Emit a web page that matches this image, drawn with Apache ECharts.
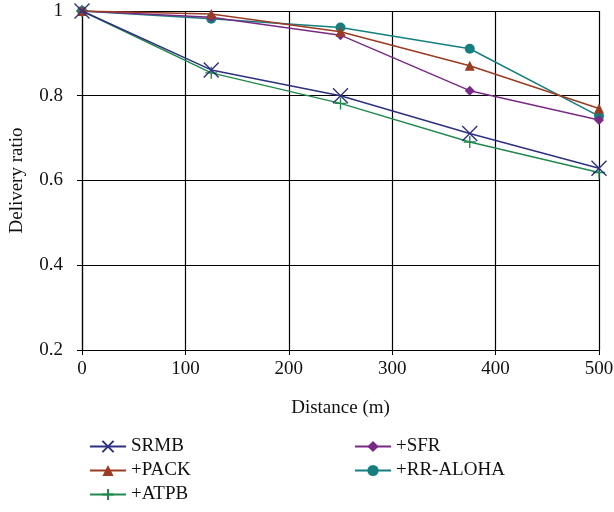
<!DOCTYPE html>
<html><head><meta charset="utf-8">
<script src="https://cdn.jsdelivr.net/npm/echarts@6/dist/echarts.min.js"></script>
<style>html,body{margin:0;padding:0;background:#fff}#c{width:614px;height:512px}</style>
</head><body><div id="c"></div>
<script>
const distances = [0, 125, 250, 375, 500];
const srmb    = [1.0, 0.861, 0.800, 0.711, 0.629];
const pack    = [1.0, 0.993, 0.951, 0.871, 0.770];
const atpb    = [1.0, 0.854, 0.782, 0.691, 0.619];
const sfr     = [1.0, 0.985, 0.943, 0.812, 0.743];
const rraloha = [1.0, 0.982, 0.961, 0.911, 0.752];
const seriesNames = ['SRMB', '+PACK', '+ATPB', '+SFR', '+RR-ALOHA'];
const seriesData = [srmb, pack, atpb, sfr, rraloha];
const colors = ['#2e3183', '#9c3a22', '#1f8a4c', '#7a2a86', '#13807f'];
const symbols = ['path://M0,0L10,10M10,0L0,10', 'triangle', 'path://M5,0L5,10M0,5L10,5', 'diamond', 'circle'];
const sizes = [15, 10, 12, 10, 10];

const font = '"Liberation Serif", "DejaVu Serif", serif';
const fs = 19;
const chart = echarts.init(document.getElementById('c'));
const series = seriesNames.map((n, i) => {
  const stroke = (i === 0 || i === 2);
  return {
    name: n, type: 'line',
    data: distances.map((d, j) => [d, seriesData[i][j]]),
    symbol: symbols[i], symbolSize: sizes[i],
    lineStyle: { color: colors[i], width: 1.5 },
    itemStyle: stroke ? { color: colors[i], borderColor: colors[i], borderWidth: 1.4 } : { color: colors[i], borderWidth: 0 },
    showAllSymbol: true,
    animation: false,
    z: 5 - i
  };
});
const legendCommon = { orient: 'vertical', top: 432, height: 80, itemWidth: 36, itemHeight: 14, itemGap: 5,
  textStyle: { fontFamily: font, fontSize: fs, color: '#111' } };
chart.setOption({
  animation: false,
  textStyle: { fontFamily: font },
  grid: { left: 82, right: 15, top: 11, bottom: 162, containLabel: false, outerBoundsMode: 'none' },
  xAxis: {
    type: 'value', min: 0, max: 500, interval: 100,
    name: 'Distance (m)', nameLocation: 'middle', nameGap: 49,
    nameTextStyle: { fontFamily: font, fontSize: fs, color: '#111' },
    axisLine: { lineStyle: { color: '#000', width: 1.2 } },
    axisTick: { show: true, length: 5, lineStyle: { color: '#000' } },
    axisLabel: { fontFamily: font, fontSize: fs, color: '#111', margin: 10 },
    splitLine: { show: true, lineStyle: { color: '#000', width: 1.2 } }
  },
  yAxis: {
    type: 'value', min: 0.2, max: 1, interval: 0.2,
    name: 'Delivery ratio', nameLocation: 'middle', nameGap: 55,
    nameTextStyle: { fontFamily: font, fontSize: fs, color: '#111' },
    axisLine: { show: true, lineStyle: { color: '#000', width: 1.2 } },
    axisTick: { show: true, length: 5, lineStyle: { color: '#000' } },
    axisLabel: { fontFamily: font, fontSize: fs, color: '#111', margin: 19,
      formatter: v => (Math.abs(v - 1) < 1e-9 ? '1' : v.toFixed(1)) },
    splitLine: { show: true, lineStyle: { color: '#000', width: 1.2 } }
  },
  legend: [
    Object.assign({ data: seriesNames.slice(0, 3), left: 84 }, legendCommon),
    Object.assign({ data: seriesNames.slice(3), left: 349 }, legendCommon)
  ],
  series: series
});
</script></body></html>
